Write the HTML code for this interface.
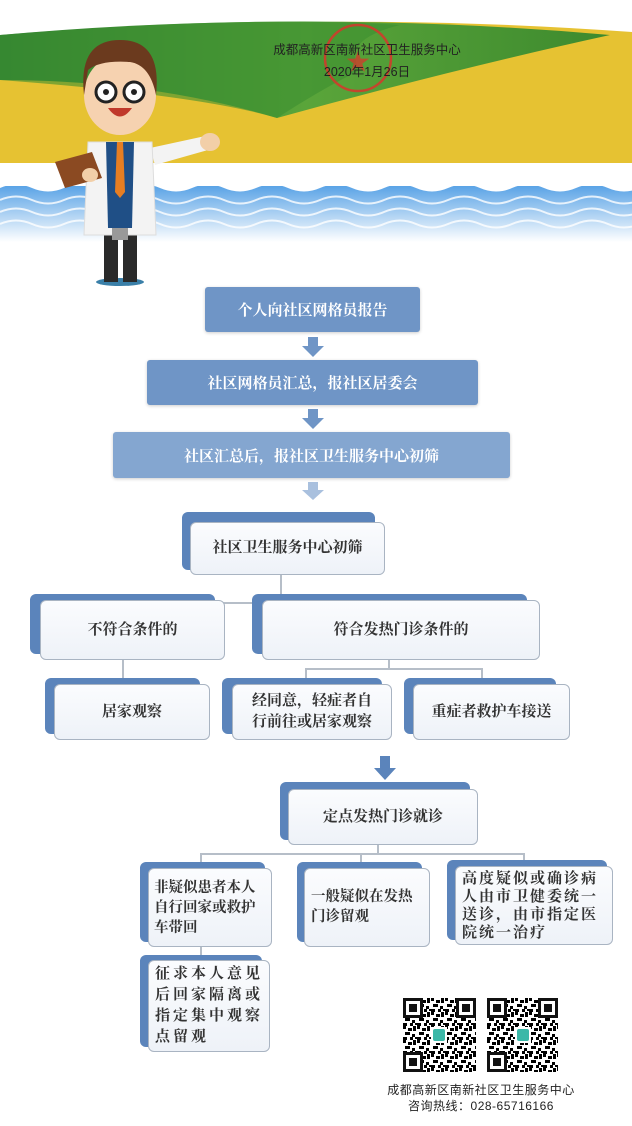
<!DOCTYPE html>
<html><head><meta charset="utf-8">
<style>
*{margin:0;padding:0;box-sizing:border-box}
body{width:632px;height:1126px;background:#fff;position:relative;overflow:hidden;font-family:"Liberation Serif","Noto Serif CJK SC",serif}
.solid{position:absolute;background:#6f95c6;color:#fff;font-weight:bold;font-size:15px;display:flex;align-items:center;justify-content:center;border-radius:3px;box-shadow:0 1px 3px rgba(0,0,0,.2)}
.sh{position:absolute;background:#5b84bb;border-radius:6px 6px 0 6px}
.fr{position:absolute;background:linear-gradient(#fbfcfe,#eef2f8);border:1.5px solid #a9b4c2;border-radius:6px;color:#333;font-size:15px;font-weight:bold;display:flex;align-items:center;justify-content:center;text-align:center;line-height:21px;white-space:nowrap}
.fr.l{justify-content:flex-start;text-align:left;padding:0 6px}
.ln{position:absolute;background:#b6bec8}
.arr{position:absolute}
</style></head><body>
<svg width="632" height="290" style="position:absolute;left:0;top:0">
<defs>
<linearGradient id="g1" x1="0" x2="1"><stop offset="0" stop-color="#2e7d32"/><stop offset=".5" stop-color="#5aa53a"/><stop offset="1" stop-color="#3d8a2e"/></linearGradient>
<linearGradient id="w" x1="0" y1="0" x2="0" y2="1"><stop offset="0" stop-color="#5aa3e6"/><stop offset="1" stop-color="#ffffff"/></linearGradient>
</defs>
<path d="M0 40 Q300 8 632 32 L632 163 L0 163 Z" fill="#e6c232"/>
<path d="M0 35 Q300 8 610 35 Q450 70 277 118 Q150 80 0 80 Z" fill="url(#g1)"/>
<path d="M0 35 Q250 15 400 25 Q340 40 360 70 Q320 90 277 118 Q200 95 0 80 Z" fill="#3c8f31" opacity=".6"/>
<rect x="0" y="186" width="632" height="56" fill="url(#w)"/>
<g fill="none" stroke="#fff" stroke-width="2" opacity=".8">
<path d="M0 200 q16 -7 32 0 t32 0 t32 0 t32 0 t32 0 t32 0 t32 0 t32 0 t32 0 t32 0 t32 0 t32 0 t32 0 t32 0 t32 0 t32 0 t32 0 t32 0 t32 0 t32 0"/>
<path d="M0 212 q16 -7 32 0 t32 0 t32 0 t32 0 t32 0 t32 0 t32 0 t32 0 t32 0 t32 0 t32 0 t32 0 t32 0 t32 0 t32 0 t32 0 t32 0 t32 0 t32 0 t32 0"/>
<path d="M0 224 q16 -7 32 0 t32 0 t32 0 t32 0 t32 0 t32 0 t32 0 t32 0 t32 0 t32 0 t32 0 t32 0 t32 0 t32 0 t32 0 t32 0 t32 0 t32 0 t32 0 t32 0"/>
</g>
<path d="M0 188 q16 -7 32 0 t32 0 t32 0 t32 0 t32 0 t32 0 t32 0 t32 0 t32 0 t32 0 t32 0 t32 0 t32 0 t32 0 t32 0 t32 0 t32 0 t32 0 t32 0 t32 0 L632 180 L0 180Z" fill="#fff"/>
<circle cx="358" cy="58" r="33" fill="none" stroke="#e0302a" stroke-width="2.5" opacity=".8"/>
<text x="358" y="70" fill="#e0302a" font-size="24" text-anchor="middle" opacity=".7">★</text>
<text x="367" y="54" font-size="12.5" fill="#222" text-anchor="middle" font-family="Liberation Sans,Noto Sans CJK SC,sans-serif">成都高新区南新社区卫生服务中心</text>
<text x="367" y="76" font-size="12.5" fill="#222" text-anchor="middle" font-family="Liberation Sans,Noto Sans CJK SC,sans-serif">2020年1月26日</text>
<ellipse cx="120" cy="282" rx="24" ry="4" fill="#3a7fa8"/>
<rect x="104" y="230" width="14" height="52" fill="#2a2a2a"/>
<rect x="123" y="230" width="14" height="52" fill="#2a2a2a"/>
<path d="M150 148 L210 135 L215 148 L155 165Z" fill="#f3f3f3"/>
<ellipse cx="210" cy="142" rx="10" ry="9" fill="#f2cfa8"/>
<path d="M88 142 L152 142 L156 235 L84 235Z" fill="#f3f3f3" stroke="#ddd"/>
<path d="M106 142 L134 142 L132 228 L108 228Z" fill="#1f4f86"/>
<path d="M117 142 L123 142 L125 192 L120 198 L115 192Z" fill="#e67e22"/>
<rect x="112" y="228" width="16" height="12" fill="#999"/>
<path d="M55 162 L92 152 L102 178 L65 188Z" fill="#8b4a22"/>
<ellipse cx="90" cy="175" rx="8" ry="7" fill="#f2cfa8"/>
<ellipse cx="120" cy="95" rx="36" ry="40" fill="#f6d2b0"/>
<path d="M84 95 Q78 40 120 40 Q162 40 156 95 Q150 65 130 62 Q100 60 88 70Z" fill="#6b3a1e"/>
<circle cx="106" cy="92" r="10" fill="#fff" stroke="#222" stroke-width="3"/>
<circle cx="134" cy="92" r="10" fill="#fff" stroke="#222" stroke-width="3"/>
<circle cx="106" cy="92" r="3" fill="#222"/><circle cx="134" cy="92" r="3" fill="#222"/>
<path d="M108 108 Q120 125 132 108Z" fill="#c0392b"/>
</svg>

<div class="solid" style="left:205px;top:287px;width:215px;height:45px">个人向社区网格员报告</div>
<svg class="arr" style="left:302px;top:337px" width="22" height="20"><path d="M6 0h10v9h6l-11 11l-11-11h6z" fill="#6f95c6"/></svg>
<div class="solid" style="left:147px;top:360px;width:331px;height:45px">社区网格员汇总，报社区居委会</div>
<svg class="arr" style="left:302px;top:409px" width="22" height="20"><path d="M6 0h10v9h6l-11 11l-11-11h6z" fill="#6f95c6"/></svg>
<div class="solid" style="left:113px;top:432px;width:397px;height:46px;background:#84a6d0">社区汇总后，报社区卫生服务中心初筛</div>
<svg class="arr" style="left:302px;top:482px" width="22" height="18"><path d="M6 0h10v8h6l-11 10l-11-10h6z" fill="#a9c0de"/></svg>

<div class="ln" style="left:280px;top:575px;width:2px;height:29px"></div>
<div class="ln" style="left:122px;top:602px;width:268px;height:2px"></div>
<div class="ln" style="left:122px;top:602px;width:2px;height:80px"></div>
<div class="ln" style="left:388px;top:602px;width:2px;height:4px"></div>
<div class="ln" style="left:388px;top:660px;width:2px;height:9px"></div>
<div class="ln" style="left:305px;top:668px;width:178px;height:2px"></div>
<div class="ln" style="left:305px;top:668px;width:2px;height:15px"></div>
<div class="ln" style="left:481px;top:668px;width:2px;height:15px"></div>

<div class="sh" style="left:182px;top:512px;width:193px;height:58px"></div>
<div class="fr" style="left:190px;top:522px;width:195px;height:53px">社区卫生服务中心初筛</div>
<div class="sh" style="left:30px;top:594px;width:185px;height:60px"></div>
<div class="fr" style="left:40px;top:600px;width:185px;height:60px">不符合条件的</div>
<div class="sh" style="left:252px;top:594px;width:275px;height:60px"></div>
<div class="fr" style="left:262px;top:600px;width:278px;height:60px">符合发热门诊条件的</div>
<div class="sh" style="left:45px;top:678px;width:155px;height:56px"></div>
<div class="fr" style="left:54px;top:684px;width:156px;height:56px">居家观察</div>
<div class="sh" style="left:222px;top:678px;width:160px;height:56px"></div>
<div class="fr" style="left:232px;top:684px;width:160px;height:56px">经同意，轻症者自<br>行前往或居家观察</div>
<div class="sh" style="left:404px;top:678px;width:152px;height:56px"></div>
<div class="fr" style="left:413px;top:684px;width:157px;height:56px">重症者救护车接送</div>

<svg class="arr" style="left:374px;top:756px" width="22" height="24"><path d="M6 0h10v12h6l-11 12l-11-12h6z" fill="#5b84bb"/></svg>
<div class="sh" style="left:280px;top:782px;width:190px;height:58px"></div>
<div class="fr" style="left:288px;top:789px;width:190px;height:56px">定点发热门诊就诊</div>

<div class="ln" style="left:377px;top:845px;width:2px;height:10px"></div>
<div class="ln" style="left:200px;top:853px;width:325px;height:2px"></div>
<div class="ln" style="left:200px;top:853px;width:2px;height:12px"></div>
<div class="ln" style="left:360px;top:853px;width:2px;height:10px"></div>
<div class="ln" style="left:523px;top:853px;width:2px;height:12px"></div>
<div class="ln" style="left:200px;top:947px;width:2px;height:14px"></div>

<div class="sh" style="left:140px;top:862px;width:125px;height:80px"></div>
<div class="fr l" style="left:148px;top:868px;width:124px;height:79px;font-size:14.5px;line-height:20px;padding:0 5px">非疑似患者本人<br>自行回家或救护<br>车带回</div>
<div class="sh" style="left:297px;top:862px;width:125px;height:80px"></div>
<div class="fr l" style="left:304px;top:868px;width:126px;height:79px;font-size:14.5px;line-height:20px;align-items:flex-start;padding-top:18px">一般疑似在发热<br>门诊留观</div>
<div class="sh" style="left:447px;top:860px;width:160px;height:80px"></div>
<div class="fr l" style="left:455px;top:866px;width:158px;height:79px;font-size:15px;line-height:18px;letter-spacing:2px">高度疑似或确诊病<br>人由市卫健委统一<br>送诊，由市指定医<br>院统一治疗</div>
<div class="sh" style="left:140px;top:955px;width:122px;height:92px"></div>
<div class="fr l" style="left:148px;top:960px;width:122px;height:92px;letter-spacing:3px;line-height:21px">征求本人意见<br>后回家隔离或<br>指定集中观察<br>点留观</div>

<svg style="position:absolute;left:403px;top:998px" width="156" height="74">
<defs><pattern id="q" width="14" height="14" patternUnits="userSpaceOnUse">
<rect x="0" y="0" width="3" height="3"/><rect x="5" y="2" width="4" height="3"/><rect x="10" y="0" width="3" height="5"/><rect x="2" y="6" width="5" height="3"/><rect x="9" y="8" width="3" height="3"/><rect x="0" y="11" width="4" height="3"/><rect x="7" y="11" width="3" height="3"/><rect x="12" y="11" width="2" height="2"/></pattern></defs>
<rect x="0" y="0" width="73" height="74" fill="url(#q)"/>
<rect x="84" y="0" width="71" height="74" fill="url(#q)"/>
<g fill="#fff" stroke="#111" stroke-width="3">
<rect x="1.5" y="1.5" width="17" height="17"/><rect x="54.5" y="1.5" width="17" height="17"/><rect x="1.5" y="55.5" width="17" height="17"/>
<rect x="85.5" y="1.5" width="17" height="17"/><rect x="136.5" y="1.5" width="17" height="17"/><rect x="85.5" y="55.5" width="17" height="17"/>
</g>
<g fill="#111"><rect x="6" y="6" width="8" height="8"/><rect x="59" y="6" width="8" height="8"/><rect x="6" y="60" width="8" height="8"/><rect x="90" y="6" width="8" height="8"/><rect x="141" y="6" width="8" height="8"/><rect x="90" y="60" width="8" height="8"/></g>
<rect x="28" y="29" width="16" height="16" fill="#fff"/><rect x="30" y="31" width="12" height="12" rx="2" fill="#3bb8a8"/>
<rect x="112" y="29" width="16" height="16" fill="#fff"/><rect x="114" y="31" width="12" height="12" rx="2" fill="#3bb8a8"/>
</svg>
<div style="position:absolute;left:340px;top:1082px;width:282px;text-align:center;font-family:'Liberation Sans','Noto Sans CJK SC',sans-serif;font-size:12px;color:#222;line-height:16px;letter-spacing:.5px">成都高新区南新社区卫生服务中心<br>咨询热线：028-65716166</div>
</body></html>
